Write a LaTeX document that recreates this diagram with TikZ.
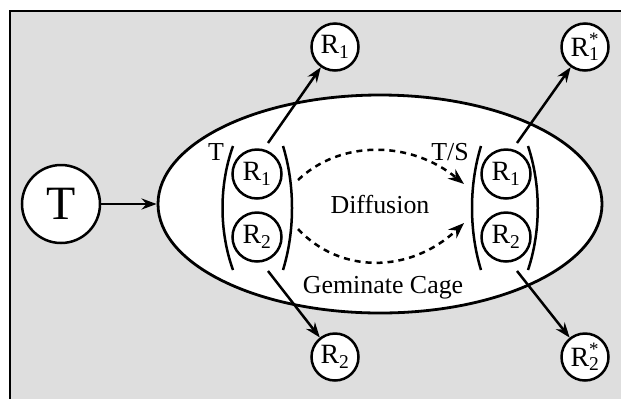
\documentclass[tikz,border=0pt]{standalone}
\usepackage{fontspec}
\setmainfont{Liberation Serif}
\usetikzlibrary{arrows.meta,shapes.geometric}
\newcommand\Rsub[1]{R\textsubscript{#1}}
\newcommand\Rstar[1]{R\rlap{\raisebox{0.38em}{\fontsize{19}{19}\selectfont *}}\textsubscript{#1}}
\begin{document}
\begin{tikzpicture}[x=1bp,y=-1bp,
  lw/.style={line width=2.5bp},
  arr/.style={line width=2.5bp,-{Stealth[length=15bp,width=11bp]}},
  dsh/.style={line width=2.5bp,dash pattern=on 6bp off 5bp,-{Stealth[length=16bp,width=12bp]}},
  rad/.style={circle,draw,line width=2.5bp,fill=white,minimum size=49bp,inner sep=0pt,font=\fontsize{28}{32}\selectfont},
  orad/.style={rad,minimum size=47bp},
  lbl/.style={font=\fontsize{26}{30}\selectfont,inner sep=0pt,anchor=base},
]
\useasboundingbox (0,0) rectangle (621,398);
\clip (0,0) rectangle (621,398);
\draw[line width=2.5bp, fill=black!13] (10,11) rectangle (650,420);

% cage ellipse
\node[ellipse,draw,line width=2.8bp,fill=white,minimum width=444bp,minimum height=218bp,inner sep=0pt] (cage) at (380,204) {};

% T
\node[circle,draw,line width=2.5bp,fill=white,minimum size=78bp,inner sep=0pt,font=\fontsize{48}{52}\selectfont] (T) at (61,204) {T};
\draw[arr] (T) -- (cage);

% left pair
\node[rad] (a1) at (257,174) {\Rsub{1}};
\node[rad] (a2) at (257,237) {\Rsub{2}};
\draw[lw] (233,146) .. controls (219,185) and (219,231) .. (233,270);
\draw[lw] (283,146) .. controls (295,185) and (295,231) .. (283,270);
\node[lbl] (tl) at (216,160) {T};

% right pair
\node[rad] (b1) at (506,174) {\Rsub{1}};
\node[rad] (b2) at (506,237) {\Rsub{2}};
\draw[lw] (481,146) .. controls (469,185) and (469,231) .. (481,270);
\draw[lw] (528,146) .. controls (541,185) and (541,231) .. (528,270);
\node[lbl] (ts) at (450,160) {T/S};

% labels
\node[lbl] (diff) at (380,213) {Diffusion};
\node[lbl] (gem) at (383,293) {Geminate Cage};

% diffusion arrows
\coordinate (d1s) at (298,180);
\coordinate (d1e) at (464,184);
\coordinate (d2s) at (298,229);
\coordinate (d2e) at (464,223);
\draw[dsh] (d1s) .. controls (340,140) and (410,140) .. (d1e);
\draw[dsh] (d2s) .. controls (340,274) and (410,274) .. (d2e);

% escaped radicals
\node[orad] (o1) at (335,47) {\Rsub{1}};
\node[orad] (o2) at (335,357) {\Rsub{2}};
\node[orad] (s1) at (585,47) {\Rstar{1}};
\node[orad] (s2) at (585,357) {\Rstar{2}};

\coordinate (e1) at (268,143);
\coordinate (e2) at (268,271);
\coordinate (f1) at (517,143);
\coordinate (f2) at (517,271);
\draw[arr] (e1) -- (o1);
\draw[arr] (e2) -- (o2);
\draw[arr] (f1) -- (s1);
\draw[arr] (f2) -- (s2);
\end{tikzpicture}
\end{document}
